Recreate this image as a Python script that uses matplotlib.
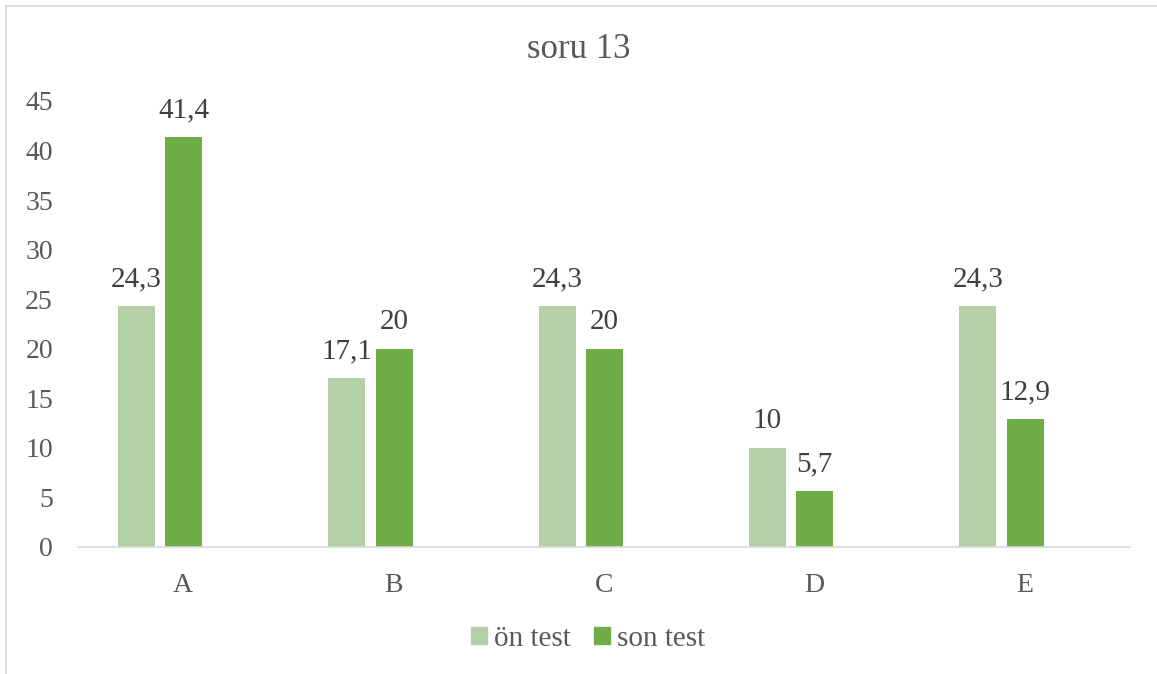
import matplotlib.pyplot as plt
import numpy as np
from matplotlib.lines import Line2D
from matplotlib.patches import Patch

plt.rcParams['font.family'] = ['Liberation Serif', 'DejaVu Serif']

categories = ['A', 'B', 'C', 'D', 'E']
on_test = [24.3, 17.1, 24.3, 10, 24.3]
son_test = [41.4, 20, 20, 5.7, 12.9]
series_names = ['ön test', 'son test']

light_green = '#b4d0a6'
green = '#70ad47'
text_grey = '#595959'
label_grey = '#404040'

W, H = 1157, 674
fig = plt.figure(figsize=(W / 100, H / 100), dpi=100)
ax = fig.add_axes([78 / W, 1 - 547 / H, 1052 / W, 446 / H])

x = np.arange(len(categories))
width = 0.176
shift = 0.223

bars_on = ax.bar(x - shift, on_test, width, color=light_green)
bars_son = ax.bar(x + 0.002, son_test, width, color=green)

def fmt(v):
    return ('%g' % v).replace('.', ',')

for bars, vals in [(bars_on, on_test), (bars_son, son_test)]:
    for b, v in zip(bars, vals):
        ax.annotate(fmt(v), (b.get_x() + b.get_width() / 2, v),
                    xytext=(0, 19), textcoords='offset points',
                    ha='center', va='center', fontsize=21, color=label_grey)

ax.set_xlim(-0.5, len(categories) - 0.5)
ax.set_ylim(0, 45)
ax.set_yticks(range(0, 46, 5))
ax.set_xticks(x)
ax.set_xticklabels(categories)
ax.tick_params(axis='both', length=0, labelsize=20, labelcolor=text_grey)
ax.tick_params(axis='x', pad=19)
ax.tick_params(axis='y', pad=18)
for s in ['top', 'right', 'left']:
    ax.spines[s].set_visible(False)
ax.spines['bottom'].set_color('#d9d9d9')
ax.spines['bottom'].set_linewidth(1.2)

fig.text(0.5, 1 - 50 / H, 'soru 13', ha='center', va='center',
         fontsize=25, color=text_grey)

handles = [Patch(color=light_green), Patch(color=green)]
fig.legend(handles, series_names, loc='center', bbox_to_anchor=(588 / W, 1 - 639 / H),
           ncol=2, frameon=False, fontsize=21, labelcolor=text_grey,
           handlelength=0.55, handleheight=0.55, handletextpad=0.25, columnspacing=0.8)

# chart frame (top and left edges only show)
fig.add_artist(Line2D([6 / W, 1], [1 - 6 / H, 1 - 6 / H], color='#d9d9d9', lw=1.2))
fig.add_artist(Line2D([6 / W, 6 / W], [0, 1 - 6 / H], color='#d9d9d9', lw=1.2))

fig.savefig('out.png', dpi=100)
